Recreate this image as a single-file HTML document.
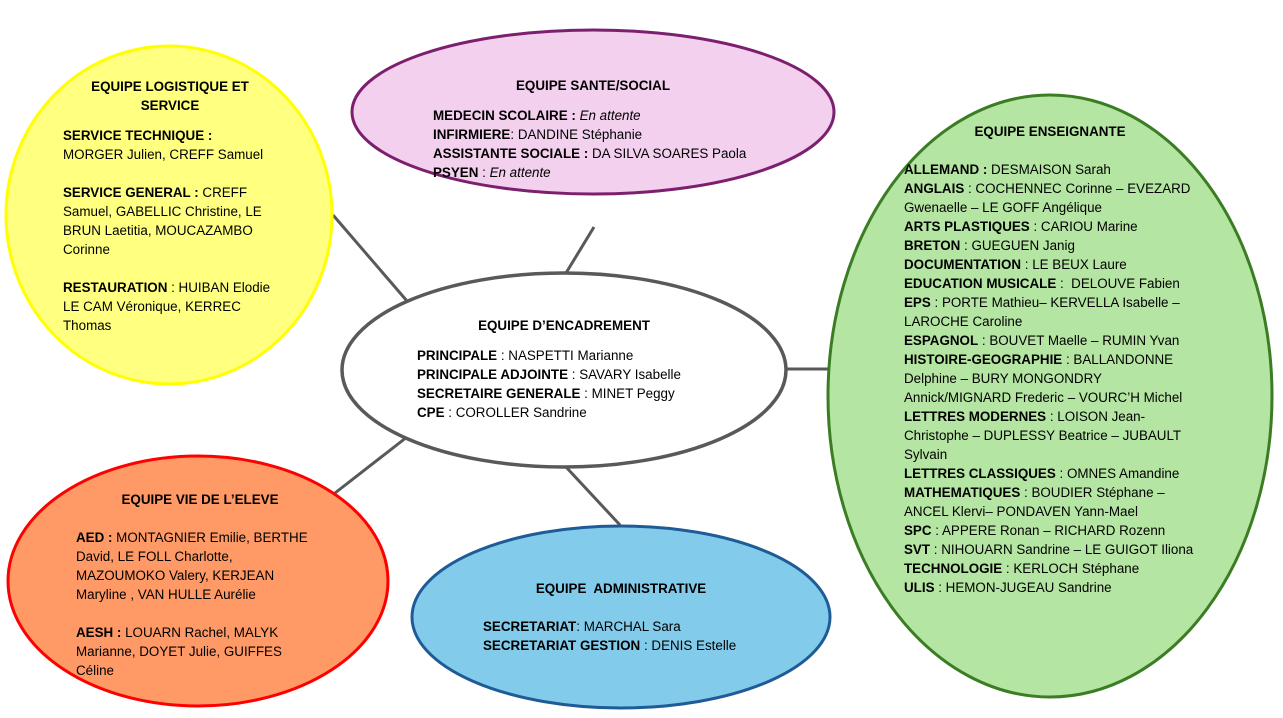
<!DOCTYPE html>
<html><head><meta charset="utf-8"><style>
body{margin:0;width:1283px;height:718px;background:#fff;position:relative;overflow:hidden;font-family:"Liberation Sans",sans-serif;font-size:13.4px;color:#000}
svg{position:absolute;left:0;top:0}
.t{position:absolute;white-space:pre;line-height:19px}
.c{position:absolute;font-weight:bold;text-align:center;line-height:19px;transform:translateX(-50%);white-space:pre}
b{font-weight:bold}
</style></head><body>
<svg width="1283" height="718">
<g stroke="#595959" stroke-width="3">
<line x1="333" y1="215" x2="407" y2="301"/>
<line x1="594" y1="227" x2="566" y2="273"/>
<line x1="787" y1="369" x2="828" y2="369"/>
<line x1="407" y1="437" x2="335" y2="493"/>
<line x1="566" y1="467" x2="620" y2="525"/>
</g>
<ellipse cx="169" cy="215" rx="163" ry="169" fill="#ffff80" stroke="#ffff00" stroke-width="3"/>
<ellipse cx="593" cy="112" rx="241" ry="82" fill="#f2d0ee" stroke="#7b1f6e" stroke-width="3"/>
<ellipse cx="1050" cy="396" rx="222" ry="301" fill="#b5e5a2" stroke="#3b7d23" stroke-width="3"/>
<ellipse cx="564" cy="370" rx="222" ry="97" fill="#fff" stroke="#595959" stroke-width="3.5"/>
<ellipse cx="198" cy="581" rx="190" ry="125" fill="#ff9966" stroke="#ff0000" stroke-width="3"/>
<ellipse cx="621" cy="617" rx="209" ry="91" fill="#83cbeb" stroke="#1f5b96" stroke-width="3"/>
</svg>

<div class="c" style="left:170px;top:77px">EQUIPE LOGISTIQUE ET
SERVICE</div>
<div class="t" style="left:63px;top:126px"><b>SERVICE TECHNIQUE :</b>
MORGER Julien, CREFF Samuel

<b>SERVICE GENERAL :</b> CREFF
Samuel, GABELLIC Christine, LE
BRUN Laetitia, MOUCAZAMBO
Corinne

<b>RESTAURATION</b> : HUIBAN Elodie
LE CAM Véronique, KERREC
Thomas</div>

<div class="c" style="left:593px;top:76px">EQUIPE SANTE/SOCIAL</div>
<div class="t" style="left:433px;top:106px"><b>MEDECIN SCOLAIRE :</b> <i>En attente</i>
<b>INFIRMIERE</b>: DANDINE Stéphanie
<b>ASSISTANTE SOCIALE :</b> DA SILVA SOARES Paola
<b>PSYEN</b> : <i>En attente</i></div>

<div class="c" style="left:1050px;top:122px">EQUIPE ENSEIGNANTE</div>
<div class="t" style="left:904px;top:160px"><b>ALLEMAND :</b> DESMAISON Sarah
<b>ANGLAIS</b> : COCHENNEC Corinne – EVEZARD
Gwenaelle – LE GOFF Angélique
<b>ARTS PLASTIQUES</b> : CARIOU Marine
<b>BRETON</b> : GUEGUEN Janig
<b>DOCUMENTATION</b> : LE BEUX Laure
<b>EDUCATION MUSICALE</b> :  DELOUVE Fabien
<b>EPS</b> : PORTE Mathieu– KERVELLA Isabelle –
LAROCHE Caroline
<b>ESPAGNOL</b> : BOUVET Maelle – RUMIN Yvan
<b>HISTOIRE-GEOGRAPHIE</b> : BALLANDONNE
Delphine – BURY MONGONDRY
Annick/MIGNARD Frederic – VOURC’H Michel
<b>LETTRES MODERNES</b> : LOISON Jean-
Christophe – DUPLESSY Beatrice – JUBAULT
Sylvain
<b>LETTRES CLASSIQUES</b> : OMNES Amandine
<b>MATHEMATIQUES</b> : BOUDIER Stéphane –
ANCEL Klervi– PONDAVEN Yann-Mael
<b>SPC</b> : APPERE Ronan – RICHARD Rozenn
<b>SVT</b> : NIHOUARN Sandrine – LE GUIGOT Iliona
<b>TECHNOLOGIE</b> : KERLOCH Stéphane
<b>ULIS</b> : HEMON-JUGEAU Sandrine</div>

<div class="c" style="left:564px;top:316px">EQUIPE D’ENCADREMENT</div>
<div class="t" style="left:417px;top:346px"><b>PRINCIPALE</b> : NASPETTI Marianne
<b>PRINCIPALE ADJOINTE</b> : SAVARY Isabelle
<b>SECRETAIRE GENERALE</b> : MINET Peggy
<b>CPE</b> : COROLLER Sandrine</div>

<div class="c" style="left:200px;top:490px">EQUIPE VIE DE L’ELEVE</div>
<div class="t" style="left:76px;top:528px"><b>AED :</b> MONTAGNIER Emilie, BERTHE
David, LE FOLL Charlotte,
MAZOUMOKO Valery, KERJEAN
Maryline , VAN HULLE Aurélie

<b>AESH :</b> LOUARN Rachel, MALYK
Marianne, DOYET Julie, GUIFFES
Céline</div>

<div class="c" style="left:621px;top:579px">EQUIPE  ADMINISTRATIVE</div>
<div class="t" style="left:483px;top:617px"><b>SECRETARIAT</b>: MARCHAL Sara
<b>SECRETARIAT GESTION</b> : DENIS Estelle</div>
</body></html>
